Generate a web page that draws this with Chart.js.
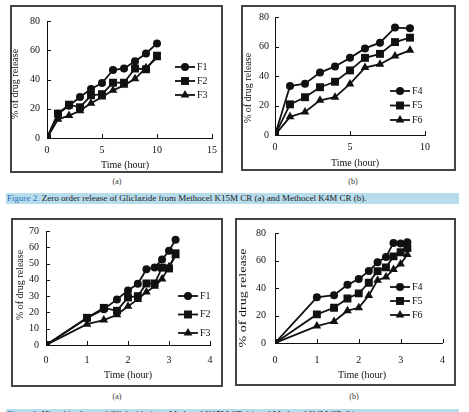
<!DOCTYPE html>
<html>
<head>
<meta charset="utf-8">
<script src="https://cdn.jsdelivr.net/npm/chart.js@4.4.0/dist/chart.umd.min.js"></script>
<style>
  body { margin: 0; width: 469px; height: 412px; background: #fff; position: relative; overflow: hidden;
         font-family: "Liberation Serif", "Times New Roman", serif; }
  .box { position: absolute; box-sizing: border-box; border: 2px solid #444; background: #fff; }
  canvas { position: absolute; }
  .sub { position: absolute; font-size: 8px; line-height: 10px; color: #333; width: 30px; text-align: center; }
  .cap { position: absolute; left: 6px; width: 452px; height: 11px; background: #b7dcec; padding-left: 1px;
         font-size: 9px; line-height: 11px; color: #222; white-space: nowrap; overflow: hidden; }
  .cap span { color: #2a72bb; }
</style>
</head>
<body>
<div class="box" style="left:10px;top:5px;width:213px;height:168px"></div>
<canvas id="zeroA" style="left:10px;top:5px"></canvas>
<div class="box" style="left:241px;top:5px;width:215px;height:166px"></div>
<canvas id="zeroB" style="left:241px;top:5px"></canvas>
<div class="sub" style="left:102px;top:177px">(a)</div>
<div class="sub" style="left:338px;top:177px">(b)</div>
<div class="cap" style="top:193px"><span>Figure 2.</span> Zero order release of Gliclazide from Methocel K15M CR (a) and Methocel K4M CR (b).</div>

<div class="box" style="left:11px;top:218px;width:212px;height:169px"></div>
<canvas id="higA" style="left:11px;top:218px"></canvas>
<div class="box" style="left:235px;top:218px;width:221px;height:168px"></div>
<canvas id="higB" style="left:235px;top:218px"></canvas>
<div class="sub" style="left:102px;top:392px">(a)</div>
<div class="sub" style="left:339px;top:392px">(b)</div>
<div class="cap" style="top:409px"><span>Figure 3.</span> Higuchi release of Gliclazide from Methocel K15M CR (a) and Methocel K4M CR (b).</div>

<script>
// sampling times (hour) and their square roots for the Higuchi plots
const time = [0, 1, 2, 3, 4, 5, 6, 7, 8, 9, 10];
const rootTime = [0, 1, 1.41, 1.73, 2, 2.24, 2.45, 2.65, 2.83, 3, 3.16];

// % of drug release, Methocel K15M CR
const f1 = [0, 16.5, 22, 28, 33.5, 37.6, 46.5, 47.6, 52.5, 57.8, 64.7];
const f2 = [0, 16.7, 22.8, 21, 29.2, 30, 37.8, 37.8, 47.5, 47, 56.3];
const f3 = [0, 12.8, 15.3, 18.6, 23.8, 28, 32.6, 36, 40.5, 48, 54.8];

// % of drug release, Methocel K4M CR
const f4 = [0, 33.2, 34.8, 42.3, 46.5, 52.3, 58.7, 62.6, 72.8, 72.3, 73.2];
const f5 = [0, 20.8, 25.6, 32.4, 36.1, 43.8, 52.3, 55, 63, 66, 69];
const f6 = [0, 12.3, 15.6, 23.5, 25.6, 34.6, 45.7, 48, 53.5, 57.4, 64.4];

const ink = '#111';
const serif = '"Liberation Serif", "Times New Roman", serif';
const marks = ['circle', 'rect', 'triangle'];
const markSize = [4, 5.6, 5];

function pts(xs, ys) {
  return ys.map((v, i) => ({x: xs[i], y: v}));
}

function mark(ctx, style, r, x, y) {
  ctx.beginPath();
  if (style === 'circle') {
    ctx.arc(x, y, r, 0, Math.PI * 2);
  } else if (style === 'rect') {
    const s = r * Math.SQRT1_2;
    ctx.rect(x - s, y - s, 2 * s, 2 * s);
  } else {
    ctx.moveTo(x, y - r);
    ctx.lineTo(x + r * 0.866, y + r * 0.5);
    ctx.lineTo(x - r * 0.866, y + r * 0.5);
    ctx.closePath();
  }
  ctx.fill();
}

// excel style tick marks pointing into the plot
const innerTicks = {
  id: 'innerTicks',
  afterDraw(chart) {
    const {ctx, chartArea: a, scales} = chart;
    ctx.save();
    ctx.strokeStyle = ink;
    ctx.lineWidth = 1;
    ctx.beginPath();
    scales.x.ticks.forEach(t => {
      const px = Math.round(scales.x.getPixelForValue(t.value)) + 0.5;
      ctx.moveTo(px, a.bottom);
      ctx.lineTo(px, a.bottom - 4);
    });
    scales.y.ticks.forEach(t => {
      const py = Math.round(scales.y.getPixelForValue(t.value)) + 0.5;
      ctx.moveTo(a.left, py);
      ctx.lineTo(a.left + 4, py);
    });
    ctx.stroke();
    ctx.restore();
  }
};

// axis titles placed where the original figure has them
const axisText = {
  id: 'axisText',
  afterDraw(chart, args, opts) {
    if (!opts.xt) return;
    const ctx = chart.ctx;
    ctx.save();
    ctx.fillStyle = ink;
    ctx.font = '10px ' + serif;
    ctx.textAlign = 'center';
    ctx.textBaseline = 'middle';
    ctx.fillText(opts.xt.text, opts.xt.cx, opts.xt.cy);
    ctx.translate(opts.yt.cx, opts.yt.cy);
    ctx.rotate(-Math.PI / 2);
    ctx.scale(opts.yt.stretch || 1, 1);
    ctx.font = (opts.yt.size || 10) + 'px ' + serif;
    ctx.fillText(opts.yt.text, 0, 0);
    ctx.restore();
  }
};

// line + marker key, one row per series
const lineKey = {
  id: 'lineKey',
  afterDraw(chart, args, opts) {
    if (opts.x == null) return;
    const ctx = chart.ctx;
    ctx.save();
    chart.data.datasets.forEach((ds, i) => {
      const y = opts.y + i * opts.gap;
      ctx.strokeStyle = ink;
      ctx.lineWidth = 1.8;
      ctx.beginPath();
      ctx.moveTo(opts.x - 10, y);
      ctx.lineTo(opts.x + 10, y);
      ctx.stroke();
      ctx.fillStyle = ink;
      mark(ctx, ds.pointStyle, ds.pointRadius, opts.x, y);
      ctx.font = '10px ' + serif;
      ctx.textAlign = 'left';
      ctx.textBaseline = 'middle';
      ctx.fillText(ds.label, opts.x + 12, y);
    });
    ctx.restore();
  }
};

Chart.register(innerTicks, axisText, lineKey);

function panel(id, p) {
  const el = document.getElementById(id);
  el.width = p.w;
  el.height = p.h;
  return new Chart(el, {
    type: 'scatter',
    data: {
      datasets: p.series.map((s, i) => ({
        label: s.label,
        data: s.data,
        showLine: true,
        borderColor: ink,
        backgroundColor: ink,
        borderWidth: 1.8,
        pointStyle: marks[i],
        pointRadius: markSize[i],
        pointBorderWidth: 0,
        order: 3 - i
      }))
    },
    options: {
      responsive: false,
      animation: false,
      devicePixelRatio: 1,
      layout: {padding: {left: 0, top: p.area.t, right: p.w - p.area.r, bottom: 0}},
      plugins: {
        legend: {display: false},
        tooltip: {enabled: false},
        axisText: {xt: p.xt, yt: p.yt},
        lineKey: p.key
      },
      scales: {
        x: {
          type: 'linear', min: 0, max: p.xMax,
          grid: {drawOnChartArea: false, drawTicks: false},
          border: {display: true, color: ink, width: 1},
          ticks: {stepSize: p.xStep, padding: p.xPad, color: ink, font: {family: serif, size: 10}},
          afterFit(s) { s.height = p.h - p.area.b; }
        },
        y: {
          min: 0, max: p.yMax,
          grid: {drawOnChartArea: false, drawTicks: false},
          border: {display: true, color: ink, width: 1},
          ticks: {stepSize: p.yStep, padding: p.yPad, color: ink, font: {family: serif, size: 10}},
          afterFit(s) { s.width = p.area.l; }
        }
      }
    }
  });
}

const yTitle = '% of drug release';
const xTitle = 'Time (hour)';

panel('zeroA', {
  w: 213, h: 168, area: {l: 37, t: 16, r: 202, b: 133},
  xMax: 15, xStep: 5, yMax: 80, yStep: 20, xPad: 6, yPad: 7,
  xt: {text: xTitle, cx: 115, cy: 160}, yt: {text: yTitle, cx: 5.5, cy: 79},
  key: {x: 175, y: 62, gap: 14},
  series: [
    {label: 'F1', data: pts(time, f1)},
    {label: 'F2', data: pts(time, f2)},
    {label: 'F3', data: pts(time, f3)}
  ]
});

panel('zeroB', {
  w: 215, h: 166, area: {l: 34, t: 12, r: 184, b: 130},
  xMax: 10, xStep: 5, yMax: 80, yStep: 20, xPad: 6, yPad: 6,
  xt: {text: xTitle, cx: 114, cy: 158}, yt: {text: yTitle, cx: 7.5, cy: 83},
  key: {x: 159, y: 86, gap: 14.5},
  series: [
    {label: 'F4', data: pts(time.slice(0, 10), f4.slice(0, 10))},
    {label: 'F5', data: pts(time.slice(0, 10), f5.slice(0, 10))},
    {label: 'F6', data: pts(time.slice(0, 10), f6.slice(0, 10))}
  ]
});

panel('higA', {
  w: 212, h: 169, area: {l: 35, t: 8, r: 199, b: 127},
  xMax: 4, xStep: 1, yMax: 70, yStep: 10, xPad: 9, yPad: 7,
  xt: {text: xTitle, cx: 117, cy: 157}, yt: {text: yTitle, cx: 9, cy: 67},
  key: {x: 177, y: 78, gap: 18.5},
  series: [
    {label: 'F1', data: pts(rootTime, f1)},
    {label: 'F2', data: pts(rootTime, f2)},
    {label: 'F3', data: pts(rootTime, f3)}
  ]
});

panel('higB', {
  w: 221, h: 168, area: {l: 40, t: 9, r: 208, b: 125},
  xMax: 4, xStep: 1, yMax: 80, yStep: 20, xPad: 11, yPad: 9,
  xt: {text: xTitle, cx: 127, cy: 157}, yt: {text: yTitle, cx: 8, cy: 80, size: 11, stretch: 1.28},
  key: {x: 165, y: 69, gap: 14},
  series: [
    {label: 'F4', data: pts(rootTime, f4)},
    {label: 'F5', data: pts(rootTime, f5)},
    {label: 'F6', data: pts(rootTime, f6)}
  ]
});
</script>
</body>
</html>
